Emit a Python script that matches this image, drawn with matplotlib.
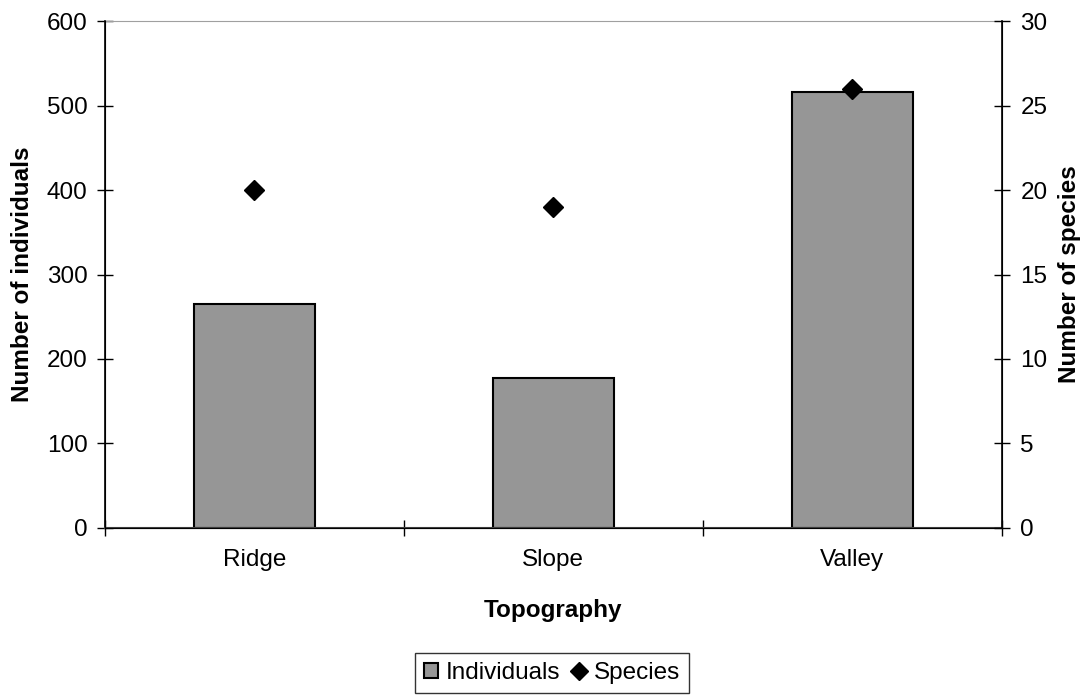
import matplotlib.pyplot as plt
import numpy as np

plt.rcParams['font.family'] = ['Liberation Sans', 'DejaVu Sans']

categories = ['Ridge', 'Slope', 'Valley']
individuals = [265, 178, 516]
species = [20, 19, 26]

fs = 17.5
fig = plt.figure(figsize=(10.9, 6.96), dpi=100)
ax = fig.add_axes([0.0963, 0.2414, 0.8227, 0.7284])
x = np.arange(len(categories))

ax.bar(x, individuals, width=0.405, color='#969696', edgecolor='black',
       linewidth=1.5, label='Individuals', zorder=2)
ax.set_xlim(-0.5, 2.5)
ax.set_ylim(0, 600)
ax.set_yticks(np.arange(0, 601, 100))
ax.tick_params(axis='y', direction='inout', length=11, width=1, labelsize=fs, pad=7)

# category boundaries as major ticks, names as minor labels
ax.set_xticks([-0.5, 0.5, 1.5, 2.5])
ax.set_xticklabels([])
ax.tick_params(axis='x', which='major', direction='inout', length=11, width=1)
ax.set_xticks(x, minor=True)
ax.set_xticklabels(categories, minor=True)
ax.tick_params(axis='x', which='minor', length=0, labelsize=fs, pad=15)

ax.spines['top'].set_color('#a0a0a0')
ax.spines['bottom'].set_color('#404040')
ax.spines['bottom'].set_linewidth(1.5)
ax.spines['left'].set_linewidth(1.2)

ax.set_xlabel('Topography', fontsize=fs, fontweight='bold', labelpad=20)
ax.set_ylabel('Number of individuals', fontsize=fs, fontweight='bold')
ax.yaxis.set_label_coords(-0.079, 0.5)

ax2 = ax.twinx()
ax2.plot(x, species, linestyle='none', marker='D', markersize=10, color='black',
         label='Species', zorder=3)
ax2.set_ylim(0, 30)
ax2.set_yticks(np.arange(0, 31, 5))
ax2.tick_params(axis='y', direction='inout', length=11, width=1, labelsize=fs, pad=8)
ax2.spines['top'].set_visible(False)
ax2.spines['right'].set_linewidth(1.2)
ax2.set_ylabel('Number of species', fontsize=fs, fontweight='bold')
ax2.yaxis.set_label_coords(1.063, 0.5)

h1, l1 = ax.get_legend_handles_labels()
h2, l2 = ax2.get_legend_handles_labels()
leg = fig.legend(h1 + h2, l1 + l2, loc='center', bbox_to_anchor=(552 / 1090, 1 - 673 / 696),
                 ncol=2, fontsize=fs, frameon=True, fancybox=False, edgecolor='black',
                 handlelength=0.6, handleheight=0.6, handletextpad=0.3, columnspacing=0.5,
                 borderpad=0.35, borderaxespad=0)
leg.get_frame().set_linewidth(1.0)
leg.legend_handles[1].set_markersize(9)

fig.savefig('out.png', dpi=100)
